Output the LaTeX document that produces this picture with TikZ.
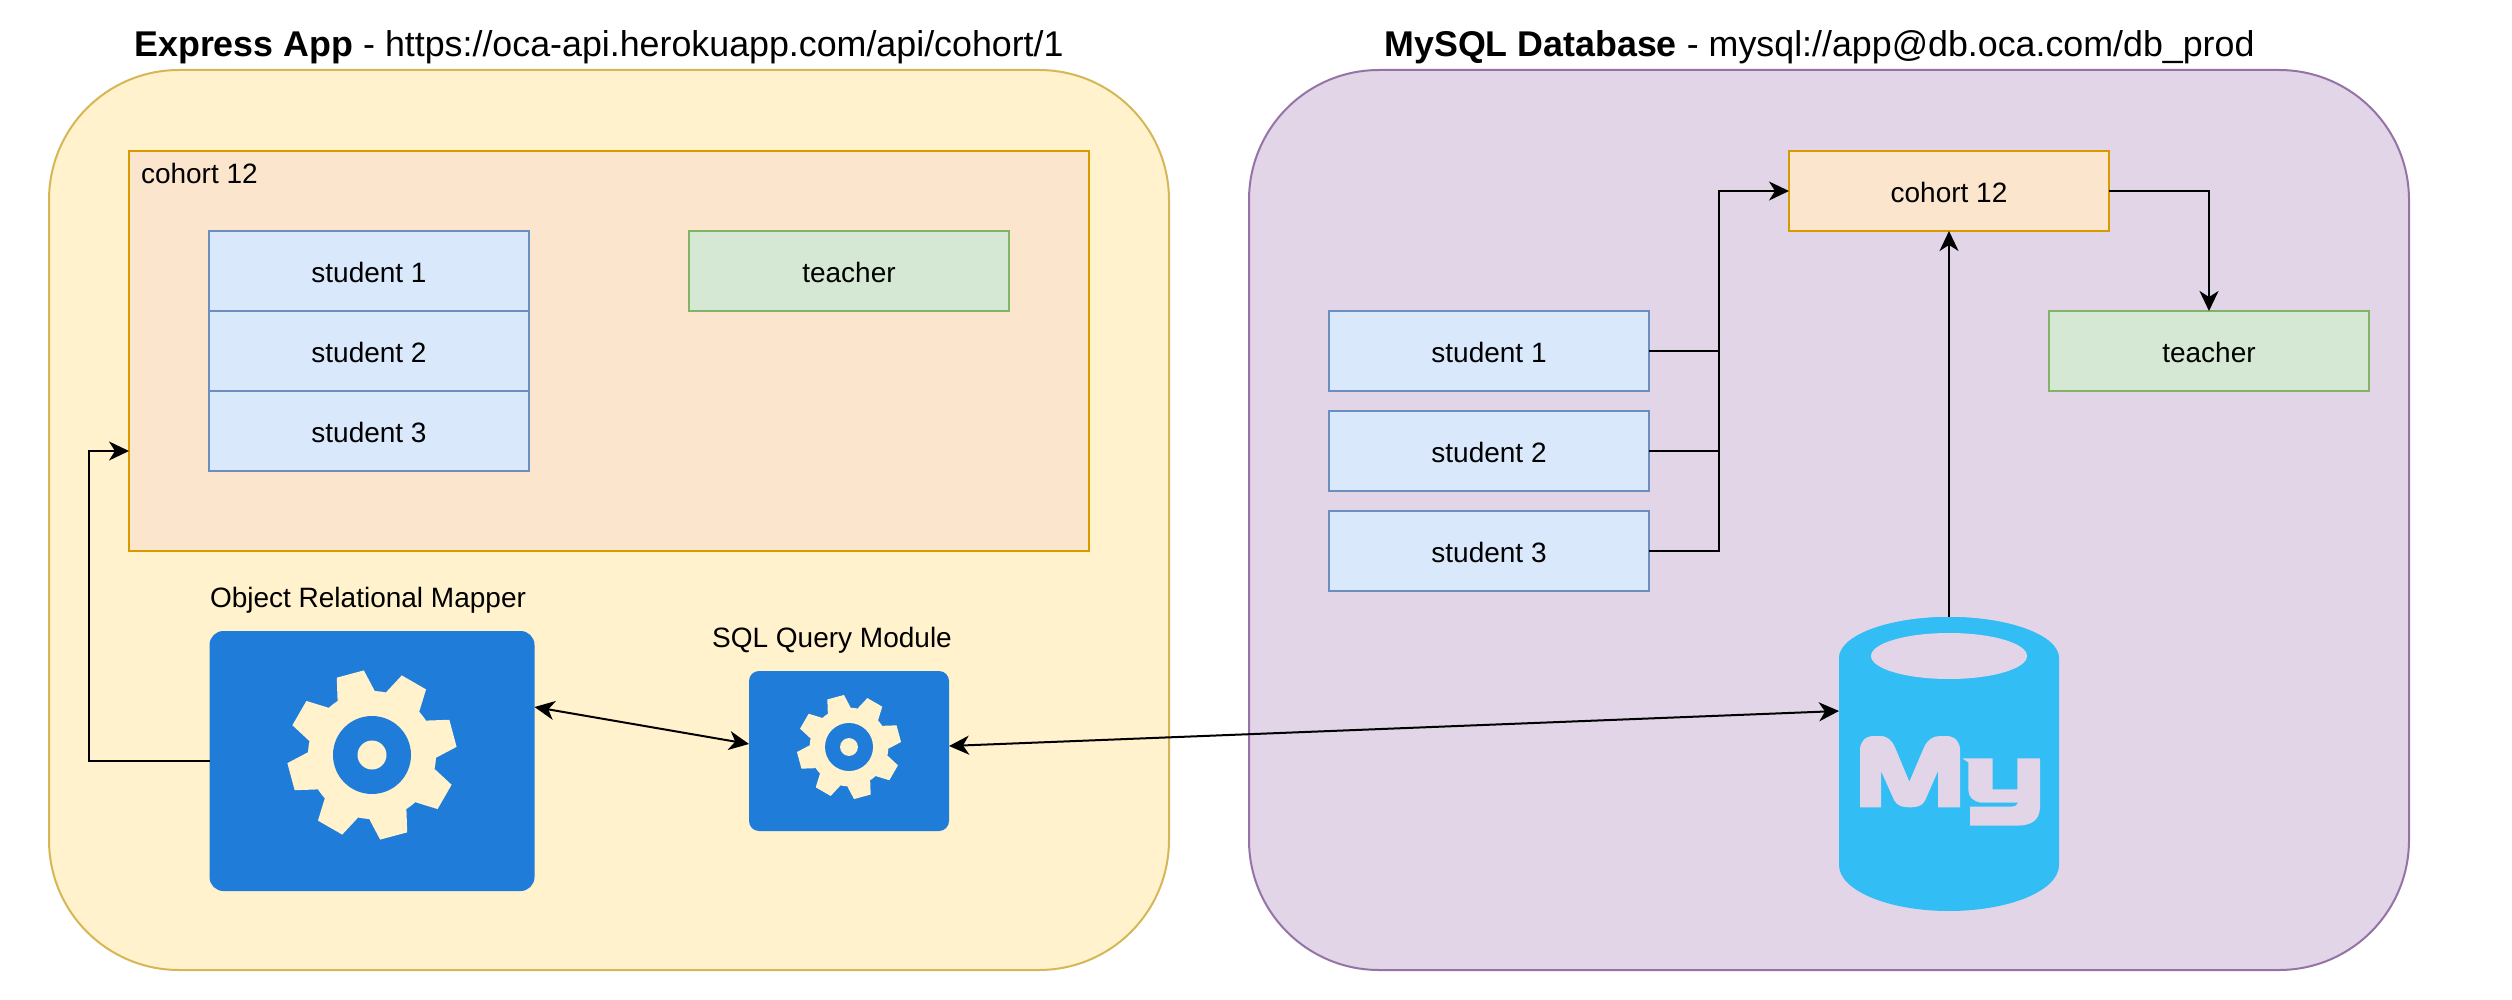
\documentclass[tikz,border=0pt]{standalone}
\usepackage{fontspec}
\setmainfont{Liberation Sans}
\usetikzlibrary{arrows.meta,calc,positioning}
\definecolor{yfill}{HTML}{FFF2CC}\definecolor{yline}{HTML}{D6B656}
\definecolor{ofill}{HTML}{FCE5CD}\definecolor{oline}{HTML}{D79B00}
\definecolor{bfill}{HTML}{DAE8FC}\definecolor{bline}{HTML}{6C8EBF}
\definecolor{gfill}{HTML}{D5E8D4}\definecolor{gline}{HTML}{82B366}
\definecolor{pfill}{HTML}{E1D5E7}\definecolor{pline}{HTML}{9673A6}
\definecolor{iconblue}{HTML}{1F7CD8}\definecolor{dbblue}{HTML}{32BEF5}
\tikzset{
  base/.style={inner sep=0pt,outer sep=0pt,font=\fontsize{28}{32}\selectfont,line width=2pt,anchor=north west,text height=23pt,text depth=0pt},
  panel/.style={base,rounded corners=130pt,minimum height=900pt},
  panelY/.style={panel,draw=yline,fill=yfill,minimum width=1120pt},
  panelP/.style={panel,draw=pline,fill=pfill,minimum width=1160pt},
  orangebox/.style={base,draw=oline,fill=ofill},
  studentbox/.style={base,draw=bline,fill=bfill,minimum width=320pt,minimum height=80pt},
  teacherbox/.style={base,draw=gline,fill=gfill,minimum width=320pt,minimum height=80pt},
  iconbox/.style={base,fill=iconblue},
  caption/.style={inner sep=0pt,outer sep=0pt,font=\fontsize{28}{32}\selectfont},
  heading/.style={inner sep=0pt,outer sep=0pt,font=\fontsize{35.8}{42}\selectfont},
  conn/.style={line width=2pt,-{Stealth[length=20pt,width=19pt,inset=6pt]}},
  biconn/.style={line width=2pt,{Stealth[length=20pt,width=19pt,inset=6pt]}-{Stealth[length=20pt,width=19pt,inset=6pt]}},
  plain/.style={line width=2pt},
  gearicon/.pic={
    \fill[yfill] (0,0) circle[radius=64];
    \foreach \k in {0,...,7}{
      \pgfmathsetmacro{\a}{-(15+45*\k)}
      \fill[yfill] (\a-17.5:64) -- (\a-9.5:85) -- (\a+9.5:85) -- (\a+17.5:64) -- cycle;
    }
    \fill[iconblue] (0,0) circle[radius=39];
    \fill[yfill] (0,0) circle[radius=14.5];
  }
}
\begin{document}
\begin{tikzpicture}[x=1pt,y=-1pt]
\useasboundingbox[fill=white] (0,0) rectangle (2512,1000);
% panels
\node[panelY] (app) at (49,70) {};
\node[panelP] (dbpanel) at (1249,70) {};
\node[heading] (apptitle) at (599,47) {\textbf{Express App} - https://oca-api.herokuapp.com/api/cohort/1};
\node[heading] (dbtitle) at (1819.5,47) {\textbf{MySQL Database} - mysql://app@db.oca.com/db\_prod};
% left cohort
\node[orangebox,minimum width=960pt,minimum height=400pt] (cohortA) at (129,151) {};
\node[caption,anchor=west] (cohortAlabel) at (141,173) {cohort 12};
\node[studentbox] (sA1) at (209,231) {student 1};
\node[studentbox] (sA2) at (209,311) {student 2};
\node[studentbox] (sA3) at (209,391) {student 3};
\node[teacherbox] (tA) at (689,231) {teacher};
% modules
\node[caption] (ormlabel) at (368,600) {Object Relational Mapper};
\node[caption] (sqllabel) at (832,640) {SQL Query Module};
\node[iconbox,rounded corners=14pt,minimum width=325pt,minimum height=260pt] (orm) at (209.5,631) {};
\node[iconbox,rounded corners=10pt,minimum width=200pt,minimum height=160pt] (sql) at (749,671) {};
\pic at (372,755) {gearicon};
\pic[scale=0.615] at (849,747) {gearicon};
% right side
\node[orangebox,minimum width=320pt,minimum height=80pt] (cohortB) at (1789,151) {cohort 12};
\node[studentbox] (sB1) at (1329,311) {student 1};
\node[studentbox] (sB2) at (1329,411) {student 2};
\node[studentbox] (sB3) at (1329,511) {student 3};
\node[teacherbox] (tB) at (2049,311) {teacher};
% database
\node[inner sep=0pt,outer sep=0pt,anchor=north west,minimum width=220pt,minimum height=294pt] (db) at (1839,617) {};
\fill[dbblue] (1839,658) arc[x radius=110,y radius=41,start angle=180,end angle=360]
  -- (2059,865) arc[x radius=110,y radius=46,start angle=0,end angle=180] -- cycle;
\fill[dbblue] (1839,659) arc[x radius=110,y radius=42,start angle=180,end angle=360] -- cycle;
\fill[pfill] (1949,656) ellipse[x radius=78,y radius=23];
\begin{scope}[shift={(1800,590)},scale=1/3]
\fill[pfill] (180,652) -- (180,480) .. controls (180,455) and (195,438) .. (222,438) -- (240,438)
 .. controls (262,438) and (275,450) .. (285,472) -- (328,575) -- (372,472)
 .. controls (382,450) and (398,438) .. (420,438) -- (438,438)
 .. controls (465,438) and (480,455) .. (480,480) -- (480,652) -- (414,652) -- (414,543) -- (375,632)
 .. controls (365,650) and (348,652) .. (330,652) .. controls (312,652) and (293,650) .. (283,632)
 -- (243,543) -- (243,652) -- cycle;
\fill[pfill] (487,505) -- (578,505) -- (578,598) -- (652,598) -- (652,505) -- (720,505) -- (720,650)
 .. controls (720,690) and (695,707) .. (650,707) -- (510,707) -- (510,650) -- (625,650)
 .. controls (645,650) and (652,647) .. (655,638) -- (545,638)
 .. controls (520,636) and (505,620) .. (505,600) -- (505,517) -- cycle;
\end{scope}
% connectors
\coordinate (ormturn) at (89,761);
\draw[conn] (orm.west) -- (ormturn) |- ([yshift=-100pt]cohortA.west);
\coordinate (busB) at (1719,351);
\draw[plain] (sB1.east) -- (busB);
\draw[plain] (sB2.east) -- (busB |- sB2.east);
\draw[conn] (sB3.east) -| (busB) |- (cohortB.west);
\draw[conn] (cohortB.east) -| (tB.north);
\draw[conn] (db.north) -- (cohortB.south);
\draw[biconn] ([yshift=54pt]orm.east) -- ([yshift=7pt]sql.west);
\draw[biconn] ([yshift=5pt]sql.east) -- ([yshift=53pt]db.west);
\end{tikzpicture}
\end{document}
